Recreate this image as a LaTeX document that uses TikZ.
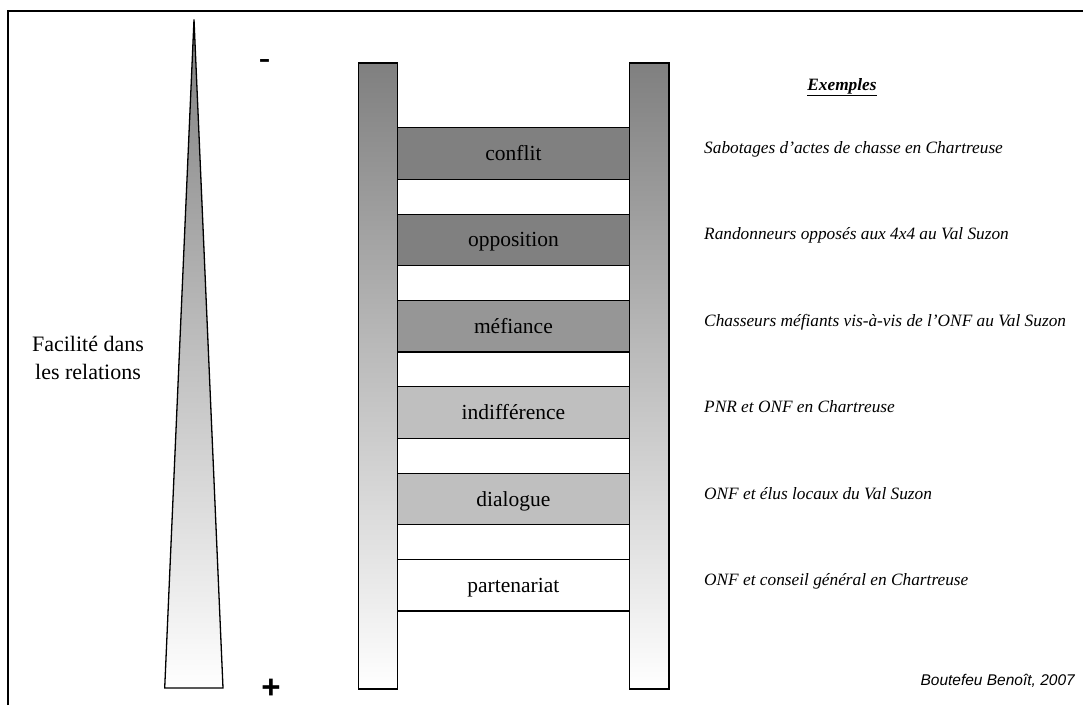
\documentclass[tikz,border=0pt]{standalone}
\usepackage{fontspec}
\setmainfont{Liberation Serif}
\newfontfamily\arialfont{Liberation Sans}
\begin{document}
\begin{tikzpicture}[x=1pt,y=-1pt,
  outline/.style={draw=black,line width=1.3pt},
  rail/.style={outline,rectangle,minimum width=39.5pt,minimum height=626pt,inner sep=0pt,top color=black!50,bottom color=white},
  rung/.style={outline,rectangle,minimum width=231.8pt,minimum height=51.5pt,inner sep=0pt,
     font=\fontsize{21.5}{24}\selectfont,text height=14pt,text depth=0pt},
  example/.style={anchor=base west,inner sep=0pt,font=\fontsize{17.3}{20}\selectfont\itshape},
  sign/.style={inner sep=0pt,font=\arialfont\fontsize{36}{40}\selectfont}
]
\useasboundingbox (0,0) rectangle (1083,705);
% frame (top and left edges)
\draw[line width=1.8pt] (8,705) -- (8,11) -- (1083,11);
% triangle
\draw[outline,top color=black!50,bottom color=white] (194,19.5) -- (223,688) -- (164.7,688) -- cycle;
\node[align=center,inner sep=0pt,font=\fontsize{22}{28}\selectfont] (facilite) at (88,358) {Facilité dans\\les relations};
\node[sign] (minus) at (264.5,65) {-};
\node[sign,font=\arialfont\bfseries\fontsize{33}{36}\selectfont] (plus) at (271,689) {+};
% ladder rails
\node[rail] (lrail) at (377.9,376) {};
\node[rail] (rrail) at (649.2,376) {};
% rungs
\node[rung,fill=black!50] (r1) at (513.4,153.4) {conflit};
\node[rung,fill=black!50] (r2) at (513.4,239.9) {opposition};
\node[rung,fill=black!41] (r3) at (513.4,326.2) {méfiance};
\node[rung,fill=black!25] (r4) at (513.4,412.5) {indifférence};
\node[rung,fill=black!25] (r5) at (513.4,499.0) {dialogue};
\node[rung,fill=white] (r6) at (513.4,585.2) {partenariat};
% examples
\node[anchor=base,inner sep=0pt,font=\fontsize{17.3}{20}\selectfont\bfseries\itshape] (ex) at (842,90) {\underline{Exemples}};
\node[example] (e1) at (704,153.4) {Sabotages d’actes de chasse en Chartreuse};
\node[example] (e2) at (704,239.9) {Randonneurs opposés aux 4x4 au Val Suzon};
\node[example] (e3) at (704,326.2) {Chasseurs méfiants vis-à-vis de l’ONF au Val Suzon};
\node[example] (e4) at (704,412.5) {PNR et ONF en Chartreuse};
\node[example] (e5) at (704,499.0) {ONF et élus locaux du Val Suzon};
\node[example] (e6) at (704,585.2) {ONF et conseil général en Chartreuse};
\node[anchor=base east,inner sep=0pt,font=\arialfont\itshape\fontsize{15.5}{18}\selectfont] (credit) at (1075,685) {Boutefeu Benoît, 2007};
\end{tikzpicture}
\end{document}
